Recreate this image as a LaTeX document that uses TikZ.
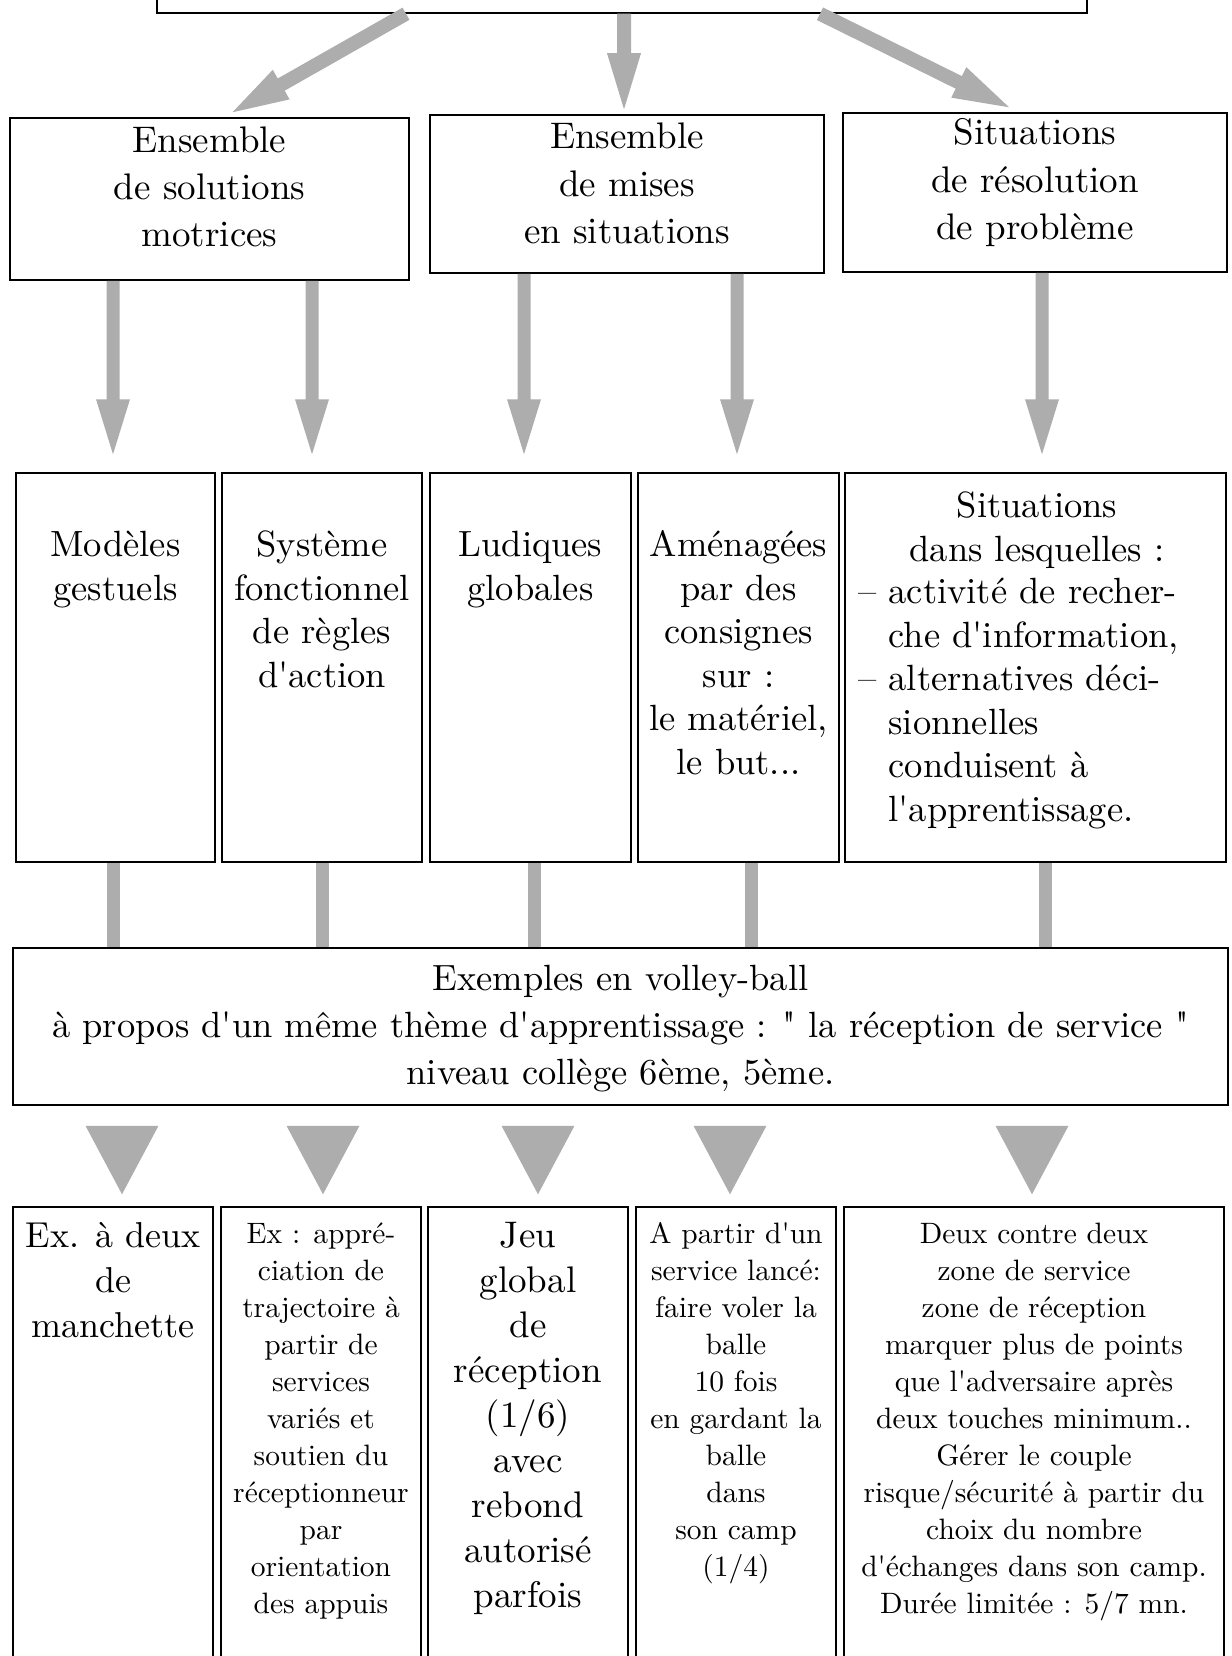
\documentclass[tikz,border=0pt]{standalone}
\usepackage{fontspec}
\newfontfamily\lmp{lmroman10-regular.otf}
\usetikzlibrary{calc}
\tikzset{
  box/.style={draw, line width=1.5pt, rectangle, inner sep=0pt},
  tx/.style={inner sep=0pt, anchor=base, align=center},
  txl/.style={inner sep=0pt, anchor=base west, align=left},
  gshade/.style={fill=black!32},
  gbar/.style={draw=black!32, line width=13pt},
  fA/.style={font=\lmp\fontsize{37}{47}\selectfont},
  fB/.style={font=\lmp\fontsize{36.5}{43.5}\selectfont},
  fC/.style={font=\lmp\fontsize{36.5}{47}\selectfont},
  fBig/.style={font=\lmp\fontsize{36}{45}\selectfont},
  fJeu/.style={font=\lmp\fontsize{37}{45}\selectfont},
  fSmall/.style={font=\lmp\fontsize{29.5}{37}\selectfont},
}
% #1 start, #2 tip, #3 shaft half width, #4 head half width, #5 head length
\newcommand\shadearrow[5]{%
  \coordinate (hb) at ($(#2)!#5!(#1)$);
  \fill[gshade] ($(#1)!#3!90:(#2)$) -- ($(#1)!#3!-90:(#2)$)
     -- ($(hb)!#3!90:(#1)$) -- ($(hb)!#4!90:(#1)$) -- (#2)
     -- ($(hb)!#4!-90:(#1)$) -- ($(hb)!#3!-90:(#1)$) -- cycle;
}
\begin{document}
\begin{tikzpicture}[x=1pt,y=-1pt]
\fill[white] (0,0) rectangle (1231,1656);
\clip (0,0) rectangle (1231,1656);

% top box (cut by the page edge)
\node[box, minimum width=930, minimum height=200] (top) at (622,-87) {};

% row 2 (anchor = baseline of the last line)
\node[box, minimum width=399, minimum height=162] (A) at (209.5,199) {};
\node[box, minimum width=394, minimum height=158] (B) at (627,194) {};
\node[box, minimum width=384, minimum height=159] (C) at (1035,192.5) {};
\node[tx, fA] (At) at (209.5,246) {Ensemble\\de solutions\\motrices};
\node[tx, fA] (Bt) at (627,243) {Ensemble\\de mises\\en situations};
\node[tx, fA] (Ct) at (1035,239) {Situations\\de résolution\\de problème};

% arrows top -> row 2
\coordinate (tS1) at ($(top.south)+(-216,0)$);
\coordinate (tE1) at ($(A.north)+(23,-5)$);
\coordinate (tS2) at ($(top.south)+(2,0)$);
\coordinate (tE2) at ($(B.north)+(-3,-5)$);
\coordinate (tS3) at ($(top.south)+(198,0)$);
\coordinate (tE3) at ($(C.north)+(-26,-5)$);
\shadearrow{tS1}{tE1}{7pt}{17pt}{56pt}
\shadearrow{tS2}{tE2}{7pt}{17pt}{56pt}
\shadearrow{tS3}{tE3}{7pt}{17pt}{56pt}

% row 3
\node[box, minimum width=199, minimum height=389] (M1) at (115.5,667.5) {};
\node[box, minimum width=200, minimum height=389] (M2) at (322,667.5) {};
\node[box, minimum width=201, minimum height=389] (M3) at (530.5,667.5) {};
\node[box, minimum width=201, minimum height=389] (M4) at (738.5,667.5) {};
\node[box, minimum width=381, minimum height=389] (M5) at (1035.5,667.5) {};
\node[tx, fB] (M1t) at (115.5,600) {Modèles\\gestuels};
\node[tx, fB] (M2t) at (322,687) {Système\\fonctionnel\\de règles\\d'action};
\node[tx, fB] (M3t) at (530.5,600) {Ludiques\\globales};
\node[tx, fB] (M4t) at (738.5,774) {Aménagées\\par des\\consignes\\sur :\\le matériel,\\le but...};
\node[tx, fB] (M5t) at (1037,561) {Situations\\dans lesquelles :};
\node[txl, fB] (M5l) at (858,821) {– activité de recher-\\\phantom{– }che d'information,\\– alternatives déci-\\\phantom{– }sionnelles\\\phantom{– }conduisent à\\\phantom{– }l'apprentissage.};

% arrows row 2 -> row 3
\coordinate (s1) at ($(A.south)+(-96.5,0)$);
\coordinate (s2) at ($(A.south)+(102.5,0)$);
\coordinate (s3) at ($(B.south)+(-103,0)$);
\coordinate (s4) at ($(B.south)+(110,0)$);
\coordinate (s5) at ($(C.south)+(7,0)$);
\coordinate (e1) at ($(s1 |- M1.north)+(0,-18)$);
\coordinate (e2) at ($(s2 |- M2.north)+(0,-18)$);
\coordinate (e3) at ($(s3 |- M3.north)+(0,-18)$);
\coordinate (e4) at ($(s4 |- M4.north)+(0,-18)$);
\coordinate (e5) at ($(s5 |- M5.north)+(0,-18)$);
\shadearrow{s1}{e1}{6.5pt}{17pt}{55pt}
\shadearrow{s2}{e2}{6.5pt}{17pt}{55pt}
\shadearrow{s3}{e3}{6.5pt}{17pt}{55pt}
\shadearrow{s4}{e4}{6.5pt}{17pt}{55pt}
\shadearrow{s5}{e5}{6.5pt}{17pt}{55pt}

% examples box
\node[box, minimum width=1215, minimum height=157] (ex) at (620.5,1026.5) {};
\node[tx, fC] (ext) at (620.5,1084) {Exemples en volley-ball\\à propos d'un même thème d'apprentissage : " la réception de service "\\niveau collège 6ème, 5ème.};

% bars row 3 -> examples
\coordinate (c1) at ($(M1.south)+(-2.5,0)$);
\coordinate (c2) at ($(M2.south)+(0,0)$);
\coordinate (c3) at ($(M3.south)+(3.5,0)$);
\coordinate (c4) at ($(M4.south)+(12.5,0)$);
\coordinate (c5) at ($(M5.south)+(9.5,0)$);
\foreach \i in {1,...,5} {\draw[gbar] (c\i) -- (c\i |- ex.north);}

% bottom boxes
\node[box, minimum width=200, minimum height=600] (b1) at (113,1507) {};
\node[box, minimum width=200, minimum height=600] (b2) at (321,1507) {};
\node[box, minimum width=200, minimum height=600] (b3) at (528,1507) {};
\node[box, minimum width=200, minimum height=600] (b4) at (736,1507) {};
\node[box, minimum width=380, minimum height=600] (b5) at (1034,1507) {};
\node[tx, fBig] (b1t) at (113,1337) {Ex. à deux\\de\\manchette};
\node[tx, fSmall] (b2t) at (321,1613) {Ex : appré-\\ciation de\\trajectoire à\\partir de\\services\\variés et\\soutien du\\réceptionneur\\par\\orientation\\des appuis};
\node[tx, fJeu] (b3t) at (528,1607) {Jeu\\global\\de\\réception\\(1/6)\\avec\\rebond\\autorisé\\parfois};
\node[tx, fSmall] (b4t) at (736,1576) {A partir d'un\\service lancé:\\faire voler la\\balle\\10 fois\\en gardant la\\balle\\dans\\son camp\\(1/4)};
\node[tx, fSmall] (b5t) at (1034,1613) {Deux contre deux\\zone de service\\zone de réception\\marquer plus de points\\que l'adversaire après\\deux touches minimum..\\Gérer le couple\\risque/sécurité à partir du\\choix du nombre\\d'échanges dans son camp.\\Durée limitée : 5/7 mn.};

% triangles examples -> bottom boxes
\coordinate (d1) at ($(ex.south)+(-498.5,20)$);
\coordinate (d2) at ($(ex.south)+(-297.5,20)$);
\coordinate (d3) at ($(ex.south)+(-82.5,20)$);
\coordinate (d4) at ($(ex.south)+(109.5,20)$);
\coordinate (d5) at ($(ex.south)+(411.5,20)$);
\foreach \i in {1,...,5} {
  \fill[gshade] ($(d\i)+(-36.5,0)$) -- ($(d\i)+(36.5,0)$) -- ($(d\i |- b\i.north)+(0,-12)$) -- cycle;
}
\end{tikzpicture}
\end{document}
